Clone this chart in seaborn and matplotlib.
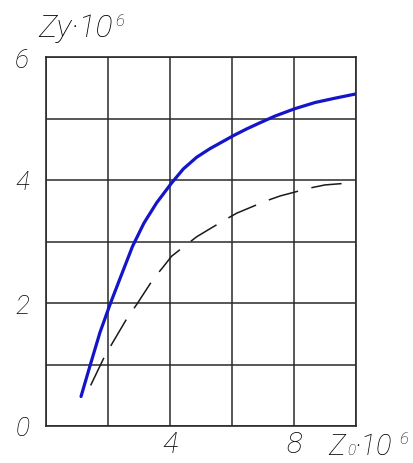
import matplotlib
matplotlib.use("Agg")
import matplotlib.pyplot as plt
import seaborn as sns
import pandas as pd

# solid blue curve
z0_solid = [1.13, 1.42, 1.74, 2.09, 2.42, 2.79, 3.16, 3.57, 4.05, 4.43, 4.86, 5.29,
            5.72, 6.04, 6.47, 6.90, 7.39, 8.03, 8.68, 9.32, 10.0]
zy_solid = [0.48, 0.98, 1.52, 2.01, 2.44, 2.92, 3.30, 3.63, 3.95, 4.18, 4.37, 4.51,
            4.63, 4.72, 4.83, 4.93, 5.04, 5.16, 5.26, 5.33, 5.40]

# dashed black curve
z0_dash = [1.44, 1.85, 2.12, 2.60, 2.93, 3.46, 3.77, 4.05, 4.48, 4.87, 5.73, 6.15,
           7.10, 7.55, 8.52, 9.0, 10.0]
zy_dash = [0.66, 1.09, 1.33, 1.74, 1.98, 2.39, 2.58, 2.76, 2.93, 3.08, 3.34, 3.46,
           3.66, 3.74, 3.87, 3.92, 3.96]

x_ticks = [0, 2, 4, 6, 8, 10]
x_labels = ["", "", "4", "", "8", ""]
y_ticks = [0, 1, 2, 3, 4, 5, 6]
y_labels = ["0", "", "2", "", "4", "", "6"]

df = pd.concat([
    pd.DataFrame({"Z0": z0_solid, "Zy": zy_solid, "curve": "solid"}),
    pd.DataFrame({"Z0": z0_dash, "Zy": zy_dash, "curve": "dash"}),
])

sns.set_style("white")
plt.rcParams["font.family"] = ["Roboto", "DejaVu Sans"]

fig = plt.figure(figsize=(4.13, 4.64), dpi=100)
ax = fig.add_axes([46 / 413, 37 / 464, 310 / 413, 369 / 464])

sns.lineplot(
    data=df, x="Z0", y="Zy", hue="curve", style="curve",
    palette={"solid": "#1414c8", "dash": "#1a1a1a"},
    dashes={"solid": "", "dash": (20, 9)},
    sort=False, estimator=None, legend=False, ax=ax,
)
for line, lw in zip(ax.get_lines(), [2.3, 1.1]):
    line.set_linewidth(lw)
    line.set_solid_joinstyle("round")
    line.set_dash_joinstyle("round")

ax.set_xlim(0, 10)
ax.set_ylim(0, 6)
ax.set_xticks(x_ticks)
ax.set_xticklabels(x_labels)
ax.set_yticks(y_ticks)
ax.set_yticklabels(y_labels)
ax.set_xlabel("")
ax.set_ylabel("")
ax.grid(True, color="#2a2a2a", linewidth=1.1)
ax.set_axisbelow(True)
for s in ax.spines.values():
    s.set_visible(True)
    s.set_color("#2a2a2a")
    s.set_linewidth(1.2)

ax.tick_params(axis="x", length=0, pad=3, labelsize=21, labelcolor="black")
ax.tick_params(axis="y", length=0, pad=12, labelsize=19, labelcolor="black")
for t in ax.get_xticklabels() + ax.get_yticklabels():
    t.set_fontstyle("italic")
    t.set_fontweight("light")

tf = dict(transform=ax.transAxes, style="italic", weight="light", color="black")
# y axis title
ax.text(0.094, 1.08, "Zy·10", ha="center", va="center", fontsize=23, **tf)
ax.text(0.238, 1.10, "6", ha="center", va="center", fontsize=12, **tf)
# x axis title
ax.text(0.937, -0.054, "Z", ha="center", va="center", fontsize=21, **tf)
ax.text(0.985, -0.066, "0", ha="center", va="center", fontsize=11, **tf)
ax.text(1.055, -0.054, "·10", ha="center", va="center", fontsize=21, **tf)
ax.text(1.155, -0.035, "6", ha="center", va="center", fontsize=12, **tf)

fig.savefig("out.png", dpi=100)
